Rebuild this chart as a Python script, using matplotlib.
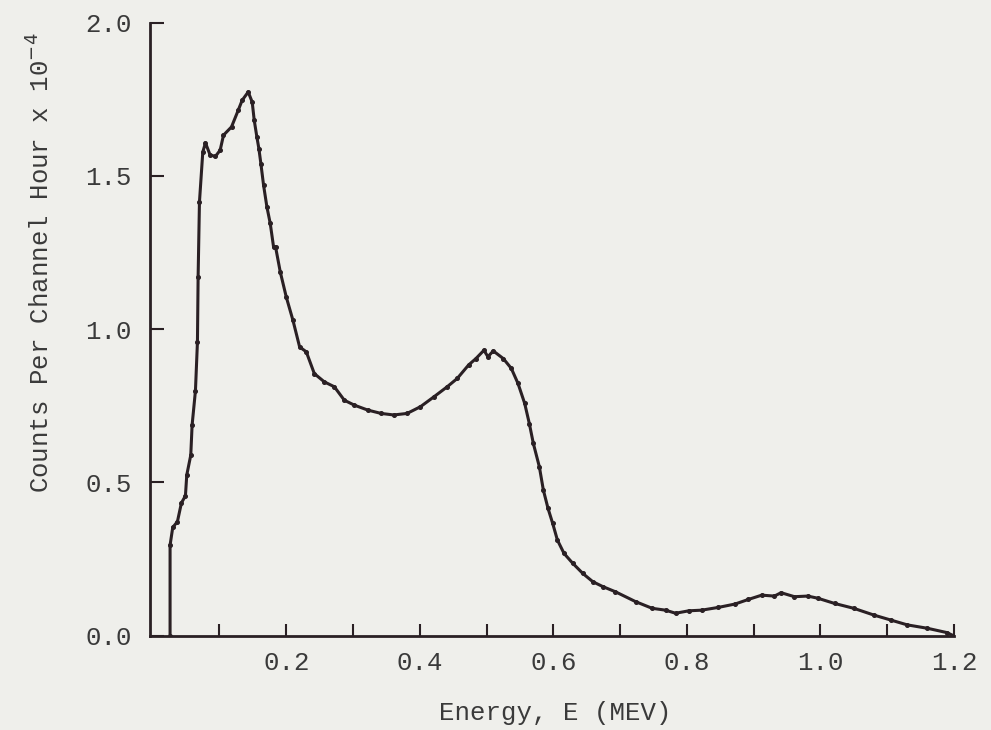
import numpy as np
import matplotlib.pyplot as plt

# energy (MeV) and counts per channel hour (x 1e-4)
energy = [0.026, 0.026, 0.030, 0.037, 0.043, 0.049, 0.051, 0.057, 0.059, 0.064,
          0.067, 0.068, 0.070, 0.075, 0.079, 0.086, 0.094, 0.101, 0.106, 0.118,
          0.128, 0.134, 0.143, 0.149, 0.152, 0.156, 0.159, 0.162, 0.166, 0.171,
          0.176, 0.181, 0.184, 0.191, 0.200, 0.210, 0.220, 0.230, 0.242, 0.257,
          0.272, 0.287, 0.302, 0.322, 0.342, 0.361, 0.381, 0.401, 0.421, 0.441,
          0.456, 0.473, 0.484, 0.496, 0.502, 0.510, 0.525, 0.537, 0.547, 0.557,
          0.564, 0.570, 0.579, 0.585, 0.592, 0.599, 0.606, 0.616, 0.629, 0.644,
          0.659, 0.674, 0.693, 0.723, 0.748, 0.768, 0.783, 0.803, 0.822, 0.847,
          0.872, 0.892, 0.912, 0.931, 0.941, 0.961, 0.981, 0.996, 1.021, 1.050,
          1.080, 1.105, 1.130, 1.160, 1.189, 1.199]
counts = [0.0, 0.295, 0.353, 0.372, 0.433, 0.456, 0.524, 0.589, 0.687, 0.799,
          0.959, 1.171, 1.415, 1.578, 1.608, 1.568, 1.564, 1.584, 1.633, 1.660,
          1.714, 1.747, 1.774, 1.741, 1.682, 1.627, 1.589, 1.540, 1.470, 1.399,
          1.345, 1.268, 1.268, 1.187, 1.105, 1.029, 0.942, 0.926, 0.855, 0.828,
          0.812, 0.768, 0.752, 0.736, 0.725, 0.720, 0.725, 0.747, 0.779, 0.812,
          0.839, 0.883, 0.904, 0.931, 0.910, 0.929, 0.904, 0.872, 0.823, 0.758,
          0.692, 0.627, 0.551, 0.475, 0.415, 0.366, 0.312, 0.268, 0.236, 0.203,
          0.176, 0.160, 0.143, 0.111, 0.089, 0.083, 0.073, 0.081, 0.083, 0.092,
          0.103, 0.118, 0.132, 0.129, 0.140, 0.127, 0.129, 0.122, 0.105, 0.089,
          0.067, 0.051, 0.035, 0.024, 0.010, 0.0]

xticks = [0.1, 0.2, 0.3, 0.4, 0.5, 0.6, 0.7, 0.8, 0.9, 1.0, 1.1, 1.2]
xlabels = ['', '0.2', '', '0.4', '', '0.6', '', '0.8', '', '1.0', '', '1.2']
yticks = [0.0, 0.5, 1.0, 1.5, 2.0]

bg = '#efefeb'
ink = '#2a2024'
txt = '#3a3a3a'
font = 'Liberation Mono'
fs = 18.5

fig = plt.figure(figsize=(9.91, 7.30), dpi=100, facecolor=bg)
ax = fig.add_axes([0.1514, 0.1293, 0.8113, 0.8396])
ax.set_facecolor(bg)

ax.plot(energy, counts, color=ink, lw=2.2, marker='o', ms=2.6, mfc=ink, mec=ink)

ax.set_xlim(-0.004, 1.2)
ax.set_ylim(0, 2.0)
for s in ['top', 'right']:
    ax.spines[s].set_visible(False)
for s in ['left', 'bottom']:
    ax.spines[s].set_linewidth(2.0)
    ax.spines[s].set_color(ink)

ax.set_xticks(xticks)
ax.set_xticklabels(xlabels)
ax.set_yticks(yticks)
ax.set_yticklabels(['%.1f' % v for v in yticks])
ax.tick_params(axis='x', direction='in', length=9, width=1.5, color=ink,
               pad=11, labelsize=fs, labelcolor=txt)
ax.tick_params(axis='y', direction='in', length=10, width=1.5, color=ink,
               pad=13, labelsize=fs, labelcolor=txt)
for lab in ax.get_xticklabels() + ax.get_yticklabels():
    lab.set_family(font)

fig.text(0.56, 0.023, 'Energy, E (MEV)', ha='center', va='center',
         fontsize=fs, family=font, color=txt)
fig.text(0.04, 0.64, r'Counts Per Channel Hour x 10$^{-4}$', rotation=90,
         ha='center', va='center', fontsize=fs, family=font, color=txt)

fig.savefig('out.png', dpi=100, facecolor=bg)
